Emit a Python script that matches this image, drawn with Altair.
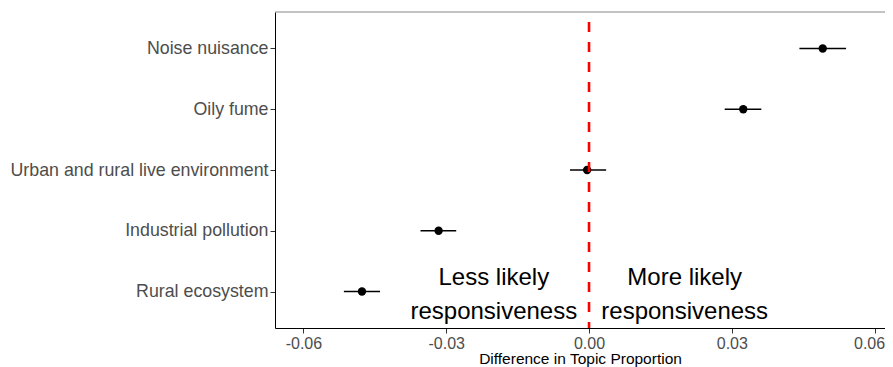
import altair as alt
import pandas as pd

topics = ["Noise nuisance", "Oily fume", "Urban and rural live environment",
          "Industrial pollution", "Rural ecosystem"]
estimate = [0.0491, 0.0324, -0.0004, -0.0316, -0.0477]
lower = [0.0442, 0.0285, -0.0040, -0.0354, -0.0515]
upper = [0.0540, 0.0362, 0.0036, -0.0279, -0.0439]

ann_x = [-0.0200, 0.0201]
ann_text = ["Less likely\nresponsiveness", "More likely\nresponsiveness"]
ann_row = ["Rural ecosystem", "Rural ecosystem"]

tick_values = [-0.06, -0.03, 0.0, 0.03, 0.06]

df = pd.DataFrame({"topic": topics, "est": estimate, "lo": lower, "hi": upper})
ann = pd.DataFrame({"x": ann_x, "text": ann_text, "topic": ann_row})
zero = pd.DataFrame({"x": [0.0]})

FONT = "Liberation Sans"
W, H = 610, 316

xscale = alt.Scale(domain=[-0.06597, 0.06218], nice=False, zero=False)
yscale = alt.Scale(type="point", padding=0.6, domain=topics)

x_axis = alt.Axis(
    values=tick_values,
    labelExpr="datum.value < 0 ? '-' + format(-datum.value, '.2f') : format(datum.value, '.2f')",
    grid=False, tickSize=5, tickColor="#333333", domainColor="#000000",
    labelColor="#4D4D4D", labelFontSize=16, labelFont=FONT, labelPadding=2,
    labelFlush=12, labelFlushOffset=10,
    title="Difference in Topic Proportion", titleFontSize=15.5, titleFont=FONT,
    titleFontWeight="normal", titleColor="#000000",
    titleY=35, titleBaseline="alphabetic",
)
y_axis = alt.Axis(
    grid=False, tickSize=5, tickColor="#333333", domainColor="#000000",
    labelColor="#4D4D4D", labelFontSize=17.8, labelFont=FONT, labelPadding=2,
    title=None, labelLimit=400,
)

base = alt.Chart(df)

bars = base.mark_rule(color="black", strokeWidth=1.6).encode(
    x=alt.X("lo:Q", scale=xscale, axis=x_axis),
    x2="hi:Q",
    y=alt.Y("topic:N", scale=yscale, axis=y_axis, sort=topics),
)

points = base.mark_point(filled=True, color="black", opacity=1, size=70).encode(
    x=alt.X("est:Q", scale=xscale),
    y=alt.Y("topic:N", scale=yscale, sort=topics),
)

vline = alt.Chart(zero).mark_rule(
    color="#FF0000", strokeWidth=2.6, strokeDash=[10, 10], strokeDashOffset=10
).encode(x=alt.X("x:Q", scale=xscale))

top_border = alt.Chart(zero).mark_rule(color="#888888", strokeWidth=1.2).encode(
    x=alt.value(0), x2=alt.value(W), y=alt.value(0)
)

texts = alt.Chart(ann).mark_text(
    fontSize=24, font=FONT, color="black", lineBreak="\n", lineHeight=34,
    align="center", baseline="middle", dy=-14,
).encode(
    x=alt.X("x:Q", scale=xscale),
    y=alt.Y("topic:N", scale=yscale, sort=topics),
    text="text:N",
)

chart = alt.layer(top_border, bars, points, vline, texts).properties(
    width=W, height=H,
    autosize=alt.AutoSizeParams(type="none"),
    padding={"left": 267, "top": 4, "right": 0, "bottom": 39},
    background="white",
).configure_view(strokeWidth=0)

chart.save("out.html", embed_options={"renderer": "svg", "actions": False})
